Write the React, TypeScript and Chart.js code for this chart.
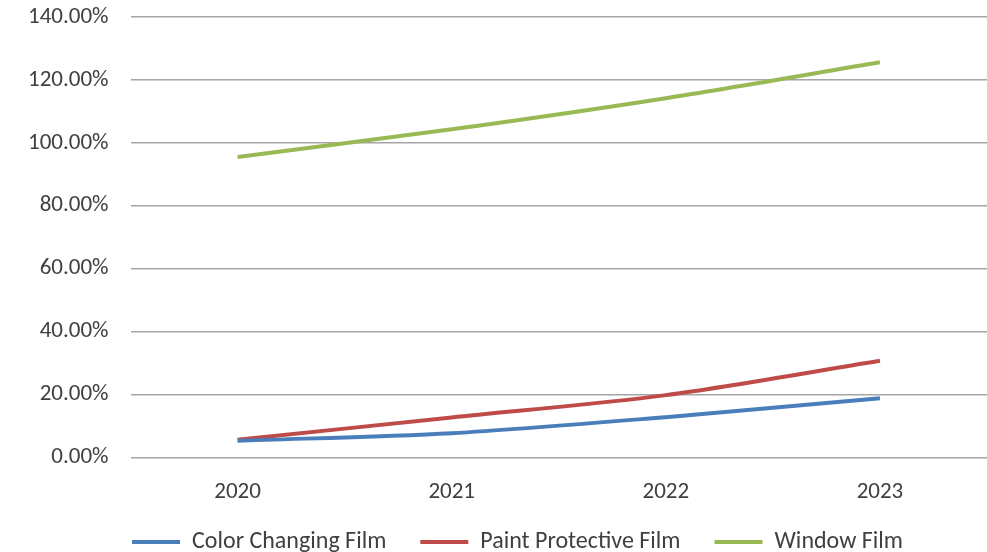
import React, { useEffect, useRef } from "react";
import { Chart, registerables } from "chart.js";

Chart.register(...registerables);

const categories = ["2020", "2021", "2022", "2023"];
const colorChanging = [5.3, 7.7, 12.8, 18.8];
const paintProtective = [5.6, 12.7, 19.8, 30.7];
const windowFilm = [95.5, 104.3, 114.2, 125.6];
const seriesNames = ["Color Changing Film", "Paint Protective Film", "Window Film"];
const seriesColors = ["#4a7ebb", "#be4b48", "#98b954"];

const FONT = "Carlito, Lato, 'Liberation Sans', sans-serif";

const legendShift = {
  id: "legendShift",
  afterLayout(chart: any) {
    const l = chart.legend;
    if (l) {
      l.top -= 23;
      l.bottom -= 23;
      l.left += 10;
      l.right += 10;
    }
  },
};

export default function App() {
  const ref = useRef<HTMLCanvasElement | null>(null);
  useEffect(() => {
    if (!ref.current) return;
    const values = [colorChanging, paintProtective, windowFilm];
    const chart = new Chart(ref.current, {
      type: "line",
      data: {
        labels: categories,
        datasets: seriesNames.map((name, i) => ({
          label: name,
          data: values[i],
          borderColor: seriesColors[i],
          backgroundColor: seriesColors[i],
          borderWidth: 4,
          pointRadius: 0,
          tension: 0.3,
          fill: false,
        })),
      },
      options: {
        animation: false,
        responsive: false,
        maintainAspectRatio: false,
        layout: { padding: { left: 28, right: 0, top: 17, bottom: -35 } },
        plugins: {
          tooltip: { enabled: false },
          legend: {
            position: "bottom",
            labels: {
              font: { family: FONT, size: 24 },
              color: "#404040",
              boxWidth: 48,
              boxHeight: 4,
              padding: 34,
              generateLabels: (c: any) =>
                Chart.defaults.plugins.legend.labels
                  .generateLabels(c)
                  .map((l: any) => ({ ...l, lineWidth: 0 })),
            },
          },
        },
        scales: {
          x: {
            offset: true,
            grid: { display: false },
            border: { display: false },
            ticks: {
              font: { family: FONT, size: 23 },
              color: "#404040",
              padding: 13,
            },
          },
          y: {
            min: 0,
            max: 140,
            grid: {
              color: "#a6a6a6",
              lineWidth: 1.5,
              drawTicks: true,
              tickLength: 22,
              tickColor: "rgba(0,0,0,0)",
            },
            border: { display: false },
            ticks: {
              stepSize: 20,
              font: { family: FONT, size: 23 },
              color: "#404040",
              padding: 0,
              callback: (v: any) => Number(v).toFixed(2) + "%",
            },
          },
        },
      },
      plugins: [legendShift],
    });
    return () => chart.destroy();
  }, []);
  return (
    <div style={{ position: "absolute", left: 0, top: 0, width: 987, height: 552, background: "#fff" }}>
      <canvas ref={ref} width={987} height={552} style={{ display: "block" }} />
    </div>
  );
}
